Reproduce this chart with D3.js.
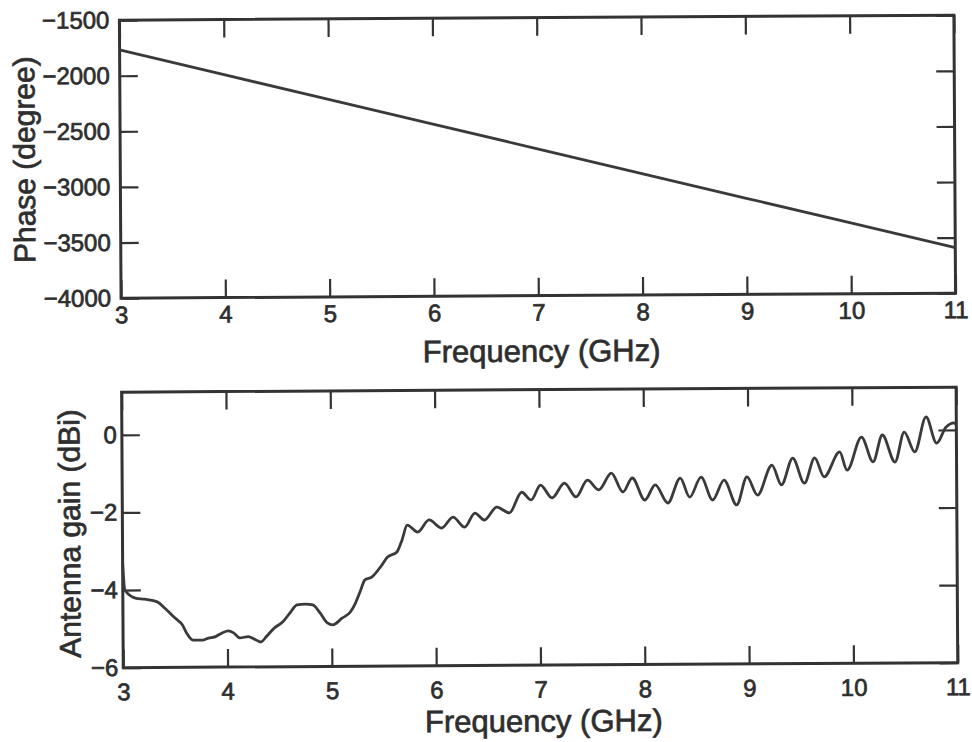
<!DOCTYPE html>
<html>
<head>
<meta charset="utf-8">
<script src="https://cdn.jsdelivr.net/npm/d3@7"></script>
<style>
  body { margin: 0; background: #fff; }
  svg text { font-family: "Liberation Sans", Arial, sans-serif; fill: #2e2e2e; stroke: #2e2e2e; stroke-width: 0.7px; }
</style>
</head>
<body>
<div id="chart"></div>
<script>
// tick labels
const freqTicks = [3, 4, 5, 6, 7, 8, 9, 10, 11];
const phaseTicks = [-4000, -3500, -3000, -2500, -2000, -1500];
const gainTicks = [-6, -4, -2, 0];

// top panel: phase vs frequency
const phaseFreq = [3, 4, 5, 6, 7, 8, 9, 10, 11];
const phaseDeg = [-1768, -1996, -2223, -2451, -2679, -2907, -3135, -3362, -3590];

// bottom panel: antenna gain vs frequency
const gainFreq = [3.00, 3.02, 3.12, 3.21, 3.33, 3.40, 3.50, 3.57, 3.61, 3.67, 3.76, 3.82, 3.88, 3.95,
  4.01, 4.06, 4.12, 4.20, 4.27, 4.32, 4.38, 4.46, 4.53, 4.60, 4.67, 4.75, 4.82, 4.89, 4.96,
  5.01, 5.10, 5.18, 5.23, 5.28, 5.32, 5.39, 5.47, 5.54, 5.63, 5.68, 5.73, 5.83, 5.94,
  6.06, 6.17, 6.28, 6.38, 6.47, 6.59, 6.71, 6.83, 6.92,
  7.01, 7.12, 7.24, 7.35, 7.46, 7.57, 7.69, 7.80, 7.89,
  8.01, 8.11, 8.23, 8.35, 8.44, 8.55, 8.66, 8.77, 8.89, 8.99,
  9.09, 9.23, 9.32, 9.43, 9.54, 9.64, 9.73, 9.88, 9.95,
  10.09, 10.20, 10.29, 10.41, 10.50, 10.60, 10.71, 10.81, 10.90, 10.98, 11.00];
const gainDbi = [-3.30, -4.00, -4.21, -4.24, -4.31, -4.47, -4.73, -4.91, -5.12, -5.30, -5.30, -5.25, -5.22, -5.12,
  -5.07, -5.12, -5.25, -5.22, -5.30, -5.36, -5.20, -4.98, -4.85, -4.62, -4.41, -4.39, -4.41, -4.62, -4.88,
  -4.93, -4.76, -4.60, -4.37, -4.04, -3.78, -3.70, -3.45, -3.19, -3.06, -2.75, -2.37, -2.55, -2.24,
  -2.45, -2.17, -2.43, -2.07, -2.25, -1.92, -2.07, -1.54, -1.74,
  -1.36, -1.69, -1.31, -1.67, -1.24, -1.49, -1.06, -1.55, -1.19,
  -1.76, -1.37, -1.84, -1.20, -1.69, -1.18, -1.77, -1.26, -1.90, -1.18,
  -1.65, -0.88, -1.39, -0.70, -1.35, -0.70, -1.19, -0.55, -1.02,
  -0.17, -0.81, -0.12, -0.82, -0.05, -0.56, 0.34, -0.34, 0.07, 0.18, 0.12];

const width = 972;
const height = 742;
const ink = "#333";

const svg = d3
  .select("#chart")
  .append("svg")
  .attr("width", width)
  .attr("height", height);

// the scan is slightly rotated
const root = svg.append("g").attr("transform", "rotate(-0.34, 486, 371)");

function drawPanel(p) {
  const x = d3.scaleLinear().domain([3, 11]).range([p.left, p.right]);
  const y = d3.scaleLinear().domain(p.yDomain).range([p.bottom, p.top]);
  const g = root.append("g");

  // axes with inward ticks
  g.append("g")
    .attr("transform", `translate(0,${p.bottom})`)
    .call(d3.axisBottom(x).tickValues(freqTicks).tickSize(-18).tickPadding(p.xPad).tickFormat(d3.format("d")));
  g.append("g")
    .attr("transform", `translate(0,${p.top})`)
    .call(d3.axisTop(x).tickValues(freqTicks).tickSize(-18).tickFormat(""));
  g.append("g")
    .attr("transform", `translate(${p.left},0)`)
    .call(d3.axisLeft(y).tickValues(p.yTicks).tickSize(-18).tickPadding(p.yPad).tickFormat(d3.format("d")));
  g.append("g")
    .attr("transform", `translate(${p.right},0)`)
    .call(d3.axisRight(y).tickValues(p.yTicks).tickSize(-18).tickFormat(""));

  g.selectAll(".domain").remove();
  g.selectAll(".tick line").attr("stroke", ink).attr("stroke-width", 2.2);
  g.selectAll(".tick text").style("font-size", "24px").attr("fill", "#2e2e2e");

  // frame
  g.append("rect")
    .attr("x", p.left)
    .attr("y", p.top)
    .attr("width", p.right - p.left)
    .attr("height", p.bottom - p.top)
    .attr("fill", "none")
    .attr("stroke", ink)
    .attr("stroke-width", 3);

  // data line
  const line = d3
    .line()
    .x((d) => x(d[0]))
    .y((d) => y(d[1]))
    .curve(p.curve);
  g.append("path")
    .datum(d3.zip(p.xs, p.ys))
    .attr("d", line)
    .attr("fill", "none")
    .attr("stroke", "#3a3a3a")
    .attr("stroke-width", 2.8)
    .attr("stroke-linejoin", "round");

  // axis titles
  g.append("text")
    .attr("x", (p.left + p.right) / 2 + 3)
    .attr("y", p.xTitleY)
    .attr("text-anchor", "middle")
    .style("font-size", "31px")
    .text("Frequency (GHz)");
  g.append("text")
    .attr("transform", `translate(${p.yTitleX},${p.yTitleMid}) rotate(-90)`)
    .attr("text-anchor", "middle")
    .style("font-size", "30px")
    .text(p.yTitle);
}

drawPanel({
  left: 121.5, right: 956, top: 18, bottom: 296,
  yDomain: [-4000, -1500], yTicks: phaseTicks,
  xs: phaseFreq, ys: phaseDeg, curve: d3.curveLinear,
  xPad: 8, yPad: 10, xTitleY: 362,
  yTitle: "Phase (degree)", yTitleX: 36, yTitleMid: 157
});

drawPanel({
  left: 121.5, right: 956, top: 390, bottom: 665.5,
  yDomain: [-6, 1.1], yTicks: gainTicks,
  xs: gainFreq, ys: gainDbi, curve: d3.curveMonotoneX,
  xPad: 15.5, yPad: 5, xTitleY: 732,
  yTitle: "Antenna gain (dBi)", yTitleX: 79, yTitleMid: 531
});
</script>
</body>
</html>
